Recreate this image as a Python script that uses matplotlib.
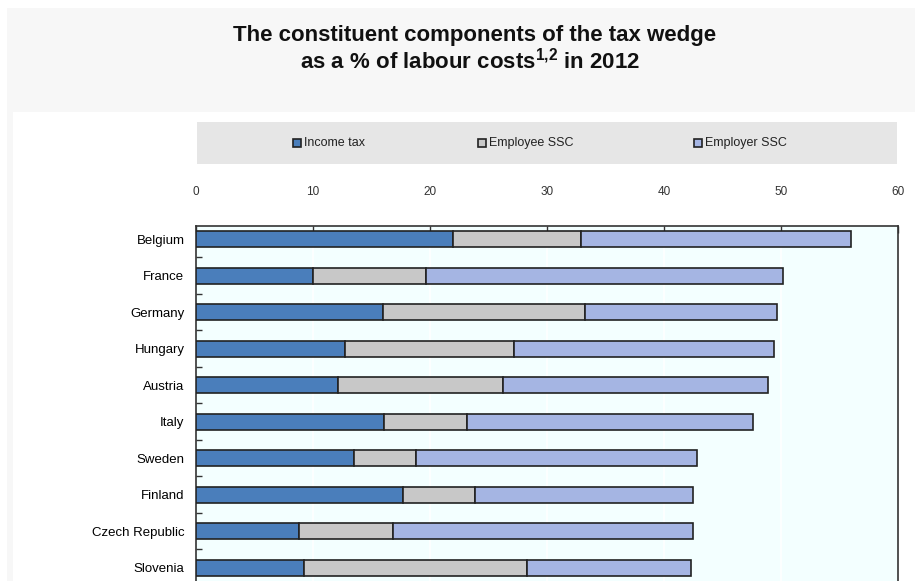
import matplotlib.pyplot as plt
from matplotlib.patches import Rectangle
import numpy as np

countries = ['Belgium', 'France', 'Germany', 'Hungary', 'Austria', 'Italy',
             'Sweden', 'Finland', 'Czech Republic', 'Slovenia']
income_tax = [22.0, 10.0, 16.0, 12.8, 12.2, 16.1, 13.5, 17.7, 8.8, 9.3]
employee_ssc = [10.9, 9.7, 17.3, 14.4, 14.1, 7.1, 5.3, 6.2, 8.1, 19.0]
employer_ssc = [23.1, 30.5, 16.4, 22.2, 22.6, 24.4, 24.0, 18.6, 25.6, 14.0]
series_names = ['Income tax', 'Employee SSC', 'Employer SSC']
x_ticks = [0, 10, 20, 30, 40, 50, 60]

plt.rcParams['font.family'] = ['Liberation Sans', 'DejaVu Sans']
plt.rcParams['mathtext.fontset'] = 'custom'
plt.rcParams['mathtext.rm'] = 'Liberation Sans:bold'
plt.rcParams['mathtext.bf'] = 'Liberation Sans:bold'

W, H = 915, 581
fig = plt.figure(figsize=(W / 100, H / 100), dpi=100, facecolor='white')

# background panels
fig.patches.append(Rectangle((7 / W, 0), 1, 1 - 8 / H, transform=fig.transFigure,
                             facecolor='#f7f7f7', edgecolor='none', zorder=-3))
fig.patches.append(Rectangle((13 / W, 0), 1, 1 - 112 / H, transform=fig.transFigure,
                             facecolor='white', edgecolor='none', zorder=-2))
# legend band
fig.patches.append(Rectangle((197 / W, 1 - 164 / H), 700 / W, 42 / H, transform=fig.transFigure,
                             facecolor='#e6e6e6', edgecolor='none', zorder=-1))

fig.text(475 / W, 1 - 36 / H, 'The constituent components of the tax wedge',
         ha='center', va='center', fontsize=16, fontweight='bold', color='#111111')
fig.text(470 / W, 1 - 61 / H, r'as a % of labour costs$^{1{,}2}$ in 2012',
         ha='center', va='center', fontsize=16, fontweight='bold', color='#111111')

ax_left, ax_right, ax_top = 195.5, 898, 226
row = 36.5
ytop, ybot = -0.36, 9.6
ax_bottom = ax_top + (ybot - ytop) * row
ax = fig.add_axes([ax_left / W, 1 - ax_bottom / H, (ax_right - ax_left) / W, (ax_bottom - ax_top) / H])
ax.set_facecolor('#f3ffff')

y = np.arange(len(countries))
colors = ['#4a7ebb', '#c8c8c8', '#a5b5e3']
left = np.zeros(len(countries))
for vals, c, name in zip([income_tax, employee_ssc, employer_ssc], colors, series_names):
    ax.barh(y, vals, left=left, height=0.44, color=c, edgecolor='#222222',
            linewidth=1.2, label=name, zorder=3)
    left = left + np.array(vals)

ax.set_xlim(0, 60)
ax.set_ylim(ybot, ytop)
ax.set_xticks(x_ticks)
ax.xaxis.tick_top()
ax.tick_params(axis='x', direction='in', length=5, width=1, pad=20, labelsize=8.5, colors='#333333')
ax.set_yticks(y)
ax.set_yticklabels(countries)
ax.set_yticks(y[:-1] + 0.5, minor=True)
ax.tick_params(axis='y', which='major', length=0, pad=8, labelsize=9.5)
ax.tick_params(axis='y', which='minor', direction='in', length=4, width=1, colors='#333333')
ax.grid(axis='x', color='white', linewidth=1.2, zorder=0)
for s in ax.spines.values():
    s.set_color('#333333')
    s.set_linewidth(1.2)

# legend entries laid out by hand in the grey band
legend_x = [293, 478, 694]
for lx, c, name in zip(legend_x, colors, series_names):
    fig.patches.append(Rectangle((lx / W, 1 - 147 / H), 8 / W, 8 / H, transform=fig.transFigure,
                                 facecolor=c, edgecolor='#222222', linewidth=1.2))
    fig.text((lx + 11) / W, 1 - 143 / H, name, ha='left', va='center', fontsize=9, color='#222222')

fig.savefig('out.png', dpi=100, facecolor=fig.get_facecolor())
